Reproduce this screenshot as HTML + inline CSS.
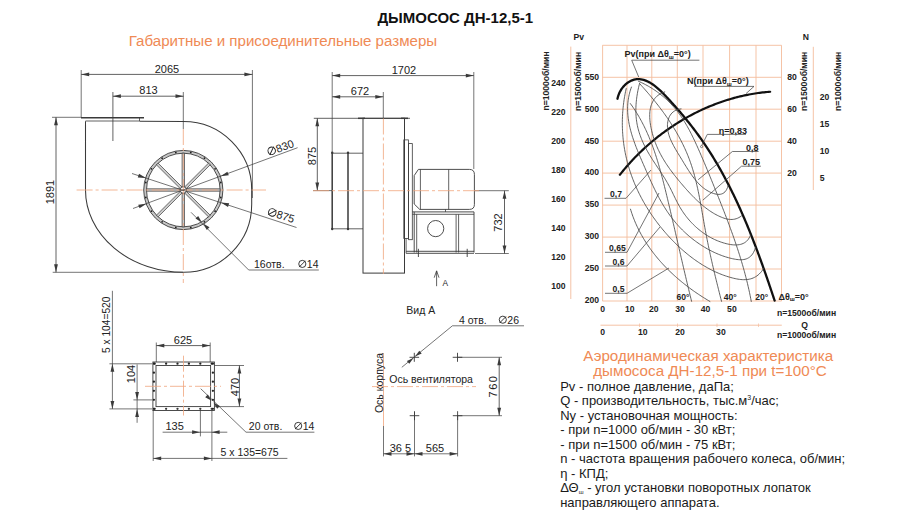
<!DOCTYPE html>
<html><head><meta charset="utf-8"><style>
html,body{margin:0;padding:0;background:#fff;width:910px;height:527px;overflow:hidden}
svg{display:block}
text{font-family:"Liberation Sans",sans-serif}
</style></head><body>
<svg width="910" height="527" viewBox="0 0 910 527">
<rect width="910" height="527" fill="#fff"/>
<text x="455.3" y="23.0" font-size="15" text-anchor="middle" fill="#111" font-weight="bold" >ДЫМОСОС ДН-12,5-1</text>
<text x="128.8" y="45.5" font-size="15.1" text-anchor="start" fill="#ef8a55" font-weight="normal" >Габаритные и присоединительные размеры</text>
<line x1="81.0" y1="117.8" x2="144.0" y2="117.8" stroke="#3a3a3a" stroke-width="1.5" />
<line x1="85.5" y1="121.0" x2="139.5" y2="121.0" stroke="#3a3a3a" stroke-width="0.8" />
<line x1="139.5" y1="117.3" x2="139.5" y2="121.0" stroke="#3a3a3a" stroke-width="0.8" />
<path d="M85.5,121.3 L85.5,190 A98.2,82.3 0 0 0 183.7,272.3 A68,68 0 0 0 251.7,204.3 L251.7,190 A68.2,68.2 0 0 0 183.5,121.6 L139.5,121.3" stroke="#3a3a3a" stroke-width="1.05" fill="none" />
<line x1="81.2" y1="70.0" x2="81.2" y2="117.0" stroke="#3a3a3a" stroke-width="0.7" />
<line x1="252.4" y1="70.0" x2="252.4" y2="198.0" stroke="#3a3a3a" stroke-width="0.7" />
<line x1="81.2" y1="74.4" x2="252.4" y2="74.4" stroke="#3a3a3a" stroke-width="0.8" />
<polygon points="81.2,74.4 89.2,76.3 89.2,72.5" fill="#3a3a3a"/>
<polygon points="252.4,74.4 244.4,72.5 244.4,76.3" fill="#3a3a3a"/>
<text x="167.0" y="72.5" font-size="11" text-anchor="middle" fill="#222" font-weight="normal" >2065</text>
<line x1="112.9" y1="92.0" x2="112.9" y2="141.0" stroke="#3a3a3a" stroke-width="0.8" />
<line x1="183.3" y1="92.0" x2="183.3" y2="129.0" stroke="#3a3a3a" stroke-width="0.7" />
<line x1="112.9" y1="96.2" x2="183.5" y2="96.2" stroke="#3a3a3a" stroke-width="0.8" />
<polygon points="112.9,96.2 120.9,98.1 120.9,94.3" fill="#3a3a3a"/>
<polygon points="183.5,96.2 175.5,94.3 175.5,98.1" fill="#3a3a3a"/>
<text x="148.5" y="94.3" font-size="11" text-anchor="middle" fill="#222" font-weight="normal" >813</text>
<line x1="52.0" y1="117.3" x2="81.0" y2="117.3" stroke="#3a3a3a" stroke-width="0.7" />
<line x1="52.7" y1="272.3" x2="183.0" y2="272.3" stroke="#3a3a3a" stroke-width="0.7" />
<line x1="56.0" y1="117.3" x2="56.0" y2="272.3" stroke="#3a3a3a" stroke-width="0.8" />
<polygon points="56.0,117.3 54.1,125.3 57.9,125.3" fill="#3a3a3a"/>
<polygon points="56.0,272.3 57.9,264.3 54.1,264.3" fill="#3a3a3a"/>
<text x="54.0" y="192.0" font-size="11" text-anchor="middle" fill="#222" font-weight="normal" transform="rotate(-90 54.0 192.0)" >1891</text>
<circle cx="183.3" cy="190" r="38.2" fill="none" stroke="#c6c6c6" stroke-width="2.6"/>
<circle cx="183.3" cy="190" r="39.6" fill="none" stroke="#3a3a3a" stroke-width="0.9"/>
<circle cx="183.3" cy="190" r="36.8" fill="none" stroke="#3a3a3a" stroke-width="0.9"/>
<circle cx="220.8" cy="197.5" r="0.9" fill="#222"/>
<circle cx="215.1" cy="211.2" r="0.9" fill="#222"/>
<circle cx="204.5" cy="221.8" r="0.9" fill="#222"/>
<circle cx="190.8" cy="227.5" r="0.9" fill="#222"/>
<circle cx="175.8" cy="227.5" r="0.9" fill="#222"/>
<circle cx="162.1" cy="221.8" r="0.9" fill="#222"/>
<circle cx="151.5" cy="211.2" r="0.9" fill="#222"/>
<circle cx="145.8" cy="197.5" r="0.9" fill="#222"/>
<circle cx="145.8" cy="182.5" r="0.9" fill="#222"/>
<circle cx="151.5" cy="168.8" r="0.9" fill="#222"/>
<circle cx="162.1" cy="158.2" r="0.9" fill="#222"/>
<circle cx="175.8" cy="152.5" r="0.9" fill="#222"/>
<circle cx="190.8" cy="152.5" r="0.9" fill="#222"/>
<circle cx="204.5" cy="158.2" r="0.9" fill="#222"/>
<circle cx="215.1" cy="168.8" r="0.9" fill="#222"/>
<circle cx="220.8" cy="182.5" r="0.9" fill="#222"/>
<polygon points="186.30,191.20 220.10,191.20 220.10,188.80 186.30,188.80" fill="#cccccc" stroke="#3a3a3a" stroke-width="0.7"/>
<polygon points="184.57,192.97 208.47,216.87 210.17,215.17 186.27,191.27" fill="#cccccc" stroke="#3a3a3a" stroke-width="0.7"/>
<polygon points="182.10,193.00 182.10,226.80 184.50,226.80 184.50,193.00" fill="#cccccc" stroke="#3a3a3a" stroke-width="0.7"/>
<polygon points="180.33,191.27 156.43,215.17 158.13,216.87 182.03,192.97" fill="#cccccc" stroke="#3a3a3a" stroke-width="0.7"/>
<polygon points="180.30,188.80 146.50,188.80 146.50,191.20 180.30,191.20" fill="#cccccc" stroke="#3a3a3a" stroke-width="0.7"/>
<polygon points="182.03,187.03 158.13,163.13 156.43,164.83 180.33,188.73" fill="#cccccc" stroke="#3a3a3a" stroke-width="0.7"/>
<polygon points="184.50,187.00 184.50,153.20 182.10,153.20 182.10,187.00" fill="#cccccc" stroke="#3a3a3a" stroke-width="0.7"/>
<polygon points="186.27,188.73 210.17,164.83 208.47,163.13 184.57,187.03" fill="#cccccc" stroke="#3a3a3a" stroke-width="0.7"/>
<circle cx="183.3" cy="190" r="3.2" fill="#fff" stroke="#3a3a3a" stroke-width="0.8"/>
<line x1="76.6" y1="190.0" x2="266.0" y2="190.0" stroke="#f0a47c" stroke-width="0.8" stroke-dasharray="16 3 3 3"/>
<line x1="183.3" y1="129.0" x2="183.3" y2="283.0" stroke="#f0a47c" stroke-width="0.8" stroke-dasharray="16 3 3 3"/>
<line x1="133.0" y1="208.5" x2="297.6" y2="147.7" stroke="#3a3a3a" stroke-width="0.7" />
<polygon points="146.4,203.7 138.2,204.7 139.6,208.3" fill="#3a3a3a"/>
<polygon points="220.6,176.3 228.8,175.3 227.4,171.7" fill="#3a3a3a"/>
<line x1="132.0" y1="173.5" x2="296.5" y2="227.5" stroke="#3a3a3a" stroke-width="0.7" />
<polygon points="146.0,178.1 139.0,173.8 137.8,177.4" fill="#3a3a3a"/>
<polygon points="221.0,202.6 228.0,206.9 229.2,203.3" fill="#3a3a3a"/>
<g transform="translate(282.00,151.30) rotate(-20)"><circle cx="-9.50" cy="-3.96" r="3.74" fill="none" stroke="#222" stroke-width="0.94"/><line x1="-12.80" y1="-0.66" x2="-6.20" y2="-7.26" stroke="#222" stroke-width="0.94"/><text x="-4.77" y="0" font-size="11" fill="#222">830</text></g>
<g transform="translate(280.20,219.00) rotate(17)"><circle cx="-9.50" cy="-3.96" r="3.74" fill="none" stroke="#222" stroke-width="0.94"/><line x1="-12.80" y1="-0.66" x2="-6.20" y2="-7.26" stroke="#222" stroke-width="0.94"/><text x="-4.77" y="0" font-size="11" fill="#222">875</text></g>
<polyline points="191.0,212.3 248.7,270.0 318.8,270.0" stroke="#3a3a3a" stroke-width="0.7" fill="none"/>
<polygon points="201.8,222.2 198.2,215.9 195.5,218.6" fill="#3a3a3a"/>
<polygon points="203.2,223.6 206.8,229.9 209.5,227.2" fill="#3a3a3a"/>
<text x="254.0" y="267.7" font-size="10.5" text-anchor="start" fill="#222" font-weight="normal" >16отв.</text>
<g transform="translate(318.50,267.70) rotate(0)"><circle cx="-16.19" cy="-3.78" r="3.57" fill="none" stroke="#222" stroke-width="0.89"/><line x1="-19.34" y1="-0.63" x2="-13.04" y2="-6.93" stroke="#222" stroke-width="0.89"/><text x="-11.68" y="0" font-size="10.5" fill="#222">14</text></g>
<line x1="332.2" y1="75.6" x2="473.8" y2="75.6" stroke="#3a3a3a" stroke-width="0.8" />
<polygon points="332.2,75.6 340.2,77.5 340.2,73.7" fill="#3a3a3a"/>
<polygon points="473.8,75.6 465.8,73.7 465.8,77.5" fill="#3a3a3a"/>
<text x="404.0" y="74.0" font-size="11" text-anchor="middle" fill="#222" font-weight="normal" >1702</text>
<line x1="332.2" y1="96.8" x2="383.3" y2="96.8" stroke="#3a3a3a" stroke-width="0.8" />
<polygon points="332.2,96.8 340.2,98.7 340.2,94.9" fill="#3a3a3a"/>
<polygon points="383.3,96.8 375.3,94.9 375.3,98.7" fill="#3a3a3a"/>
<text x="360.0" y="94.8" font-size="11" text-anchor="middle" fill="#222" font-weight="normal" >672</text>
<line x1="332.2" y1="72.0" x2="332.2" y2="153.0" stroke="#3a3a3a" stroke-width="0.7" />
<line x1="473.8" y1="72.0" x2="473.8" y2="169.0" stroke="#3a3a3a" stroke-width="0.7" />
<line x1="383.3" y1="92.0" x2="383.3" y2="118.0" stroke="#3a3a3a" stroke-width="0.7" />
<line x1="313.8" y1="118.3" x2="410.0" y2="118.3" stroke="#3a3a3a" stroke-width="0.8" />
<line x1="317.3" y1="118.3" x2="317.3" y2="190.6" stroke="#3a3a3a" stroke-width="0.8" />
<polygon points="317.3,118.3 315.4,126.3 319.2,126.3" fill="#3a3a3a"/>
<polygon points="317.3,190.6 319.2,182.6 315.4,182.6" fill="#3a3a3a"/>
<text x="316.0" y="156.0" font-size="11" text-anchor="middle" fill="#222" font-weight="normal" transform="rotate(-90 316.0 156.0)" >875</text>
<line x1="313.0" y1="190.6" x2="332.0" y2="190.6" stroke="#3a3a3a" stroke-width="0.7" />
<line x1="332.2" y1="152.7" x2="332.2" y2="229.0" stroke="#3a3a3a" stroke-width="1.5" />
<line x1="348.0" y1="152.7" x2="348.0" y2="229.0" stroke="#3a3a3a" stroke-width="1.5" />
<circle cx="332.2" cy="152.7" r="1.2" fill="#3a3a3a"/><circle cx="348" cy="152.7" r="1.2" fill="#3a3a3a"/><circle cx="332.2" cy="229" r="1.2" fill="#3a3a3a"/><circle cx="348" cy="229" r="1.2" fill="#3a3a3a"/>
<line x1="332.2" y1="153.2" x2="363.0" y2="153.2" stroke="#3a3a3a" stroke-width="0.8" />
<line x1="332.2" y1="228.8" x2="363.0" y2="228.8" stroke="#3a3a3a" stroke-width="0.8" />
<rect x="363" y="118.3" width="41.5" height="154.8" fill="none" stroke="#3a3a3a" stroke-width="1"/>
<line x1="358.0" y1="118.3" x2="365.0" y2="118.3" stroke="#3a3a3a" stroke-width="1.5" />
<line x1="401.0" y1="118.3" x2="408.0" y2="118.3" stroke="#3a3a3a" stroke-width="1.5" />
<rect x="403.8" y="139.9" width="4.8" height="98.6" fill="none" stroke="#3a3a3a" stroke-width="0.8"/>
<rect x="408.6" y="143.6" width="3.7" height="96.1" fill="none" stroke="#3a3a3a" stroke-width="0.8"/>
<path d="M418.4,169.4 L469.4,169.4 Q474.4,169.4 474.4,174.4 L474.4,204.4 Q474.4,209.4 469.4,209.4 L419.7,209.4 L414.2,204 L414.2,175.6 Z" stroke="#3a3a3a" stroke-width="0.9" fill="none" />
<line x1="420.4" y1="169.4" x2="420.4" y2="209.4" stroke="#3a3a3a" stroke-width="0.8" />
<line x1="448.7" y1="169.4" x2="448.7" y2="209.4" stroke="#3a3a3a" stroke-width="0.8" />
<line x1="445.5" y1="209.4" x2="445.5" y2="211.9" stroke="#3a3a3a" stroke-width="0.8" />
<line x1="412.3" y1="211.9" x2="474.0" y2="211.9" stroke="#3a3a3a" stroke-width="0.9" />
<line x1="412.3" y1="214.3" x2="474.0" y2="214.3" stroke="#3a3a3a" stroke-width="0.8" />
<line x1="414.2" y1="211.9" x2="414.2" y2="252.5" stroke="#3a3a3a" stroke-width="0.9" />
<line x1="416.7" y1="214.3" x2="416.7" y2="252.5" stroke="#3a3a3a" stroke-width="0.8" />
<line x1="456.1" y1="214.3" x2="456.1" y2="252.5" stroke="#3a3a3a" stroke-width="0.8" />
<line x1="458.6" y1="214.3" x2="458.6" y2="252.5" stroke="#3a3a3a" stroke-width="0.8" />
<line x1="474.0" y1="211.9" x2="474.0" y2="252.5" stroke="#3a3a3a" stroke-width="0.9" />
<circle cx="435.7" cy="228.6" r="8.1" fill="none" stroke="#3a3a3a" stroke-width="0.9"/>
<line x1="406.1" y1="251.3" x2="474.0" y2="251.3" stroke="#3a3a3a" stroke-width="0.9" />
<line x1="406.1" y1="253.3" x2="474.0" y2="253.3" stroke="#3a3a3a" stroke-width="0.9" />
<line x1="406.1" y1="238.5" x2="406.1" y2="253.3" stroke="#3a3a3a" stroke-width="0.8" />
<line x1="418.4" y1="248.8" x2="418.4" y2="257.0" stroke="#3a3a3a" stroke-width="0.9" />
<line x1="467.2" y1="248.8" x2="467.2" y2="257.0" stroke="#3a3a3a" stroke-width="0.9" />
<line x1="475.0" y1="190.7" x2="508.8" y2="190.7" stroke="#3a3a3a" stroke-width="0.7" />
<line x1="475.0" y1="253.5" x2="508.8" y2="253.5" stroke="#3a3a3a" stroke-width="0.7" />
<line x1="504.5" y1="190.7" x2="504.5" y2="253.5" stroke="#3a3a3a" stroke-width="0.8" />
<polygon points="504.5,190.7 502.6,198.7 506.4,198.7" fill="#3a3a3a"/>
<polygon points="504.5,253.5 506.4,245.5 502.6,245.5" fill="#3a3a3a"/>
<text x="502.0" y="222.5" font-size="11" text-anchor="middle" fill="#222" font-weight="normal" transform="rotate(-90 502.0 222.5)" >732</text>
<line x1="313.0" y1="190.7" x2="480.0" y2="190.7" stroke="#f0a47c" stroke-width="0.8" stroke-dasharray="16 3 3 3"/>
<line x1="383.4" y1="118.5" x2="383.4" y2="274.0" stroke="#f0a47c" stroke-width="0.8" stroke-dasharray="16 3 3 3"/>
<polyline points="434.2,277.7 436.6,270.8 439.0,277.7" stroke="#3a3a3a" stroke-width="0.8" fill="none"/>
<line x1="436.6" y1="271.0" x2="436.6" y2="286.2" stroke="#3a3a3a" stroke-width="0.8" />
<text x="442.6" y="286.2" font-size="8.3" text-anchor="start" fill="#222" font-weight="normal" >A</text>
<rect x="152.9" y="362" width="61.5" height="48.5" fill="none" stroke="#3a3a3a" stroke-width="0.9"/>
<rect x="156" y="365.5" width="54.6" height="41.1" fill="none" stroke="#3a3a3a" stroke-width="0.9"/>
<circle cx="154.7" cy="363.7" r="1.15" fill="#222"/><circle cx="154.7" cy="408.8" r="1.15" fill="#3a3a3a"/>
<circle cx="166.1" cy="363.7" r="1.15" fill="#222"/><circle cx="166.1" cy="408.8" r="1.15" fill="#3a3a3a"/>
<circle cx="177.5" cy="363.7" r="1.15" fill="#222"/><circle cx="177.5" cy="408.8" r="1.15" fill="#3a3a3a"/>
<circle cx="188.9" cy="363.7" r="1.15" fill="#222"/><circle cx="188.9" cy="408.8" r="1.15" fill="#3a3a3a"/>
<circle cx="200.3" cy="363.7" r="1.15" fill="#222"/><circle cx="200.3" cy="408.8" r="1.15" fill="#3a3a3a"/>
<circle cx="211.7" cy="363.7" r="1.15" fill="#222"/><circle cx="211.7" cy="408.8" r="1.15" fill="#3a3a3a"/>
<circle cx="153.9" cy="363.7" r="1.15" fill="#222"/><circle cx="212.9" cy="363.7" r="1.15" fill="#222"/>
<circle cx="153.9" cy="372.7" r="1.15" fill="#222"/><circle cx="212.9" cy="372.7" r="1.15" fill="#222"/>
<circle cx="153.9" cy="381.7" r="1.15" fill="#222"/><circle cx="212.9" cy="381.7" r="1.15" fill="#222"/>
<circle cx="153.9" cy="390.8" r="1.15" fill="#222"/><circle cx="212.9" cy="390.8" r="1.15" fill="#222"/>
<circle cx="153.9" cy="399.8" r="1.15" fill="#222"/><circle cx="212.9" cy="399.8" r="1.15" fill="#222"/>
<circle cx="153.9" cy="408.8" r="1.15" fill="#222"/><circle cx="212.9" cy="408.8" r="1.15" fill="#222"/>
<line x1="145.0" y1="386.3" x2="221.0" y2="386.3" stroke="#f0a47c" stroke-width="0.8" stroke-dasharray="16 3 3 3"/>
<line x1="183.5" y1="355.7" x2="183.5" y2="415.5" stroke="#f0a47c" stroke-width="0.8" stroke-dasharray="16 3 3 3"/>
<line x1="156.3" y1="342.5" x2="156.3" y2="362.0" stroke="#3a3a3a" stroke-width="0.7" />
<line x1="210.2" y1="342.5" x2="210.2" y2="362.0" stroke="#3a3a3a" stroke-width="0.7" />
<line x1="156.3" y1="345.6" x2="210.2" y2="345.6" stroke="#3a3a3a" stroke-width="0.8" />
<polygon points="156.3,345.6 164.3,347.5 164.3,343.7" fill="#3a3a3a"/>
<polygon points="210.2,345.6 202.2,343.7 202.2,347.5" fill="#3a3a3a"/>
<text x="183.0" y="343.8" font-size="11" text-anchor="middle" fill="#222" font-weight="normal" >625</text>
<line x1="109.4" y1="363.8" x2="152.0" y2="363.8" stroke="#3a3a3a" stroke-width="0.7" />
<line x1="109.4" y1="408.9" x2="152.0" y2="408.9" stroke="#3a3a3a" stroke-width="0.7" />
<line x1="112.4" y1="290.8" x2="112.4" y2="408.9" stroke="#3a3a3a" stroke-width="0.7" />
<polygon points="112.4,363.8 110.5,371.8 114.3,371.8" fill="#3a3a3a"/>
<polygon points="112.4,408.9 114.3,400.9 110.5,400.9" fill="#3a3a3a"/>
<text x="110.0" y="324.8" font-size="10.2" text-anchor="middle" fill="#222" font-weight="normal" transform="rotate(-90 110.0 324.8)" >5 x 104=520</text>
<line x1="133.4" y1="399.9" x2="152.2" y2="399.9" stroke="#3a3a3a" stroke-width="0.7" />
<line x1="137.1" y1="364.4" x2="137.1" y2="422.8" stroke="#3a3a3a" stroke-width="0.7" />
<polygon points="137.1,399.9 139.0,391.9 135.2,391.9" fill="#3a3a3a"/>
<polygon points="137.1,408.9 135.2,416.9 139.0,416.9" fill="#3a3a3a"/>
<text x="134.5" y="374.0" font-size="11" text-anchor="middle" fill="#222" font-weight="normal" transform="rotate(-90 134.5 374.0)" >104</text>
<line x1="214.7" y1="365.5" x2="244.0" y2="365.5" stroke="#3a3a3a" stroke-width="0.7" />
<line x1="214.7" y1="406.6" x2="244.0" y2="406.6" stroke="#3a3a3a" stroke-width="0.7" />
<line x1="239.4" y1="365.5" x2="239.4" y2="406.6" stroke="#3a3a3a" stroke-width="0.8" />
<polygon points="239.4,365.5 237.5,373.5 241.3,373.5" fill="#3a3a3a"/>
<polygon points="239.4,406.6 241.3,398.6 237.5,398.6" fill="#3a3a3a"/>
<text x="239.0" y="387.0" font-size="11" text-anchor="middle" fill="#222" font-weight="normal" transform="rotate(-90 239.0 387.0)" >470</text>
<line x1="200.4" y1="410.0" x2="200.4" y2="436.4" stroke="#3a3a3a" stroke-width="0.7" />
<line x1="211.9" y1="410.0" x2="211.9" y2="461.0" stroke="#3a3a3a" stroke-width="0.7" />
<line x1="153.2" y1="410.0" x2="153.2" y2="461.0" stroke="#3a3a3a" stroke-width="0.7" />
<line x1="162.6" y1="432.2" x2="227.3" y2="432.2" stroke="#3a3a3a" stroke-width="0.7" />
<polygon points="200.1,432.2 192.1,430.3 192.1,434.1" fill="#3a3a3a"/>
<polygon points="211.6,432.2 219.6,434.1 219.6,430.3" fill="#3a3a3a"/>
<text x="174.6" y="429.7" font-size="11" text-anchor="middle" fill="#222" font-weight="normal" >135</text>
<polyline points="200.7,388.7 246.0,432.2 314.4,432.2" stroke="#3a3a3a" stroke-width="0.7" fill="none"/>
<polygon points="211.6,400.7 207.8,394.5 205.2,397.2" fill="#3a3a3a"/>
<polygon points="213.4,402.5 217.2,408.7 219.8,406.0" fill="#3a3a3a"/>
<text x="248.8" y="429.7" font-size="10.5" text-anchor="start" fill="#222" font-weight="normal" >20 отв.</text>
<g transform="translate(314.40,429.70) rotate(0)"><circle cx="-16.19" cy="-3.78" r="3.57" fill="none" stroke="#222" stroke-width="0.89"/><line x1="-19.34" y1="-0.63" x2="-13.04" y2="-6.93" stroke="#222" stroke-width="0.89"/><text x="-11.68" y="0" font-size="10.5" fill="#222">14</text></g>
<line x1="153.2" y1="458.4" x2="287.4" y2="458.4" stroke="#3a3a3a" stroke-width="0.7" />
<polygon points="153.2,458.4 161.2,460.3 161.2,456.5" fill="#3a3a3a"/>
<polygon points="211.9,458.4 203.9,456.5 203.9,460.3" fill="#3a3a3a"/>
<text x="249.6" y="456.0" font-size="10.5" text-anchor="middle" fill="#222" font-weight="normal" >5 x 135=675</text>
<text x="406.3" y="314.0" font-size="10.5" text-anchor="start" fill="#222" font-weight="normal" >Вид А</text>
<polyline points="401.8,367.3 452.4,325.8 524.0,325.8" stroke="#3a3a3a" stroke-width="0.7" fill="none"/>
<polygon points="413.5,357.9 406.9,360.9 409.3,363.8" fill="#3a3a3a"/>
<polygon points="415.1,356.6 421.7,353.6 419.3,350.7" fill="#3a3a3a"/>
<text x="459.0" y="323.5" font-size="10.5" text-anchor="start" fill="#222" font-weight="normal" >4 отв.</text>
<g transform="translate(519.00,323.50) rotate(0)"><circle cx="-16.19" cy="-3.78" r="3.57" fill="none" stroke="#222" stroke-width="0.89"/><line x1="-19.34" y1="-0.63" x2="-13.04" y2="-6.93" stroke="#222" stroke-width="0.89"/><text x="-11.68" y="0" font-size="10.5" fill="#222">26</text></g>
<line x1="409.5" y1="357.3" x2="419.1" y2="357.3" stroke="#3a3a3a" stroke-width="0.9" />
<line x1="414.3" y1="352.8" x2="414.3" y2="361.8" stroke="#3a3a3a" stroke-width="0.9" />
<line x1="452.7" y1="357.3" x2="462.3" y2="357.3" stroke="#3a3a3a" stroke-width="0.9" />
<line x1="457.5" y1="352.8" x2="457.5" y2="361.8" stroke="#3a3a3a" stroke-width="0.9" />
<line x1="409.7" y1="415.7" x2="419.3" y2="415.7" stroke="#3a3a3a" stroke-width="0.9" />
<line x1="414.5" y1="411.2" x2="414.5" y2="420.2" stroke="#3a3a3a" stroke-width="0.9" />
<line x1="452.8" y1="415.7" x2="462.4" y2="415.7" stroke="#3a3a3a" stroke-width="0.9" />
<line x1="457.6" y1="411.2" x2="457.6" y2="420.2" stroke="#3a3a3a" stroke-width="0.9" />
<line x1="457.5" y1="357.3" x2="502.0" y2="357.3" stroke="#3a3a3a" stroke-width="0.7" />
<line x1="457.6" y1="415.7" x2="502.0" y2="415.7" stroke="#3a3a3a" stroke-width="0.7" />
<line x1="499.2" y1="357.3" x2="499.2" y2="415.7" stroke="#3a3a3a" stroke-width="0.8" />
<polygon points="499.2,357.3 497.3,365.3 501.1,365.3" fill="#3a3a3a"/>
<polygon points="499.2,415.7 501.1,407.7 497.3,407.7" fill="#3a3a3a"/>
<text x="497.3" y="386.0" font-size="11" text-anchor="middle" fill="#222" font-weight="normal" transform="rotate(-90 497.3 386.0)" letter-spacing="1.6">760</text>
<line x1="372.0" y1="386.6" x2="476.0" y2="386.6" stroke="#f0a47c" stroke-width="0.8" stroke-dasharray="16 3 3 3"/>
<line x1="383.5" y1="353.0" x2="383.5" y2="426.0" stroke="#f0a47c" stroke-width="0.8" />
<text x="382.5" y="383.0" font-size="10.5" text-anchor="middle" fill="#222" font-weight="normal" transform="rotate(-90 382.5 383.0)" >Ось корпуса</text>
<text x="389.3" y="383.3" font-size="10.5" text-anchor="start" fill="#222" font-weight="normal" >Ось вентилятора</text>
<line x1="383.5" y1="426.0" x2="383.5" y2="456.4" stroke="#3a3a3a" stroke-width="0.7" />
<line x1="414.5" y1="412.0" x2="414.5" y2="456.4" stroke="#3a3a3a" stroke-width="0.7" />
<line x1="457.6" y1="415.7" x2="457.6" y2="456.4" stroke="#3a3a3a" stroke-width="0.7" />
<line x1="383.5" y1="453.8" x2="457.6" y2="453.8" stroke="#3a3a3a" stroke-width="0.7" />
<polygon points="383.5,453.8 391.5,455.7 391.5,451.9" fill="#3a3a3a"/>
<polygon points="414.5,453.8 406.5,451.9 406.5,455.7" fill="#3a3a3a"/>
<polygon points="414.5,453.8 422.5,455.7 422.5,451.9" fill="#3a3a3a"/>
<polygon points="457.6,453.8 449.6,451.9 449.6,455.7" fill="#3a3a3a"/>
<text x="389.7" y="451.8" font-size="11" text-anchor="start" fill="#222" font-weight="normal" >36 5</text>
<text x="425.8" y="451.8" font-size="11" text-anchor="start" fill="#222" font-weight="normal" >565</text>
<line x1="602.6" y1="45.3" x2="602.6" y2="301.0" stroke="#f4bc9c" stroke-width="0.9" />
<line x1="627.0" y1="45.3" x2="627.0" y2="301.0" stroke="#f4bc9c" stroke-width="0.9" />
<line x1="651.8" y1="45.3" x2="651.8" y2="301.0" stroke="#f4bc9c" stroke-width="0.9" />
<line x1="677.3" y1="45.3" x2="677.3" y2="301.0" stroke="#f4bc9c" stroke-width="0.9" />
<line x1="703.0" y1="45.3" x2="703.0" y2="301.0" stroke="#f4bc9c" stroke-width="0.9" />
<line x1="729.6" y1="45.3" x2="729.6" y2="301.0" stroke="#f4bc9c" stroke-width="0.9" />
<line x1="756.0" y1="45.3" x2="756.0" y2="301.0" stroke="#f4bc9c" stroke-width="0.9" />
<line x1="781.5" y1="45.3" x2="781.5" y2="301.0" stroke="#f4bc9c" stroke-width="0.9" />
<line x1="602.4" y1="45.3" x2="781.5" y2="45.3" stroke="#f4bc9c" stroke-width="0.9" />
<line x1="602.4" y1="77.3" x2="781.5" y2="77.3" stroke="#f4bc9c" stroke-width="0.9" />
<line x1="602.4" y1="109.2" x2="781.5" y2="109.2" stroke="#f4bc9c" stroke-width="0.9" />
<line x1="602.4" y1="141.2" x2="781.5" y2="141.2" stroke="#f4bc9c" stroke-width="0.9" />
<line x1="602.4" y1="173.1" x2="781.5" y2="173.1" stroke="#f4bc9c" stroke-width="0.9" />
<line x1="602.4" y1="205.1" x2="781.5" y2="205.1" stroke="#f4bc9c" stroke-width="0.9" />
<line x1="602.4" y1="237.1" x2="781.5" y2="237.1" stroke="#f4bc9c" stroke-width="0.9" />
<line x1="602.4" y1="269.0" x2="781.5" y2="269.0" stroke="#f4bc9c" stroke-width="0.9" />
<line x1="602.4" y1="301.0" x2="781.5" y2="301.0" stroke="#f4bc9c" stroke-width="0.9" />
<text x="599.0" y="79.6" font-size="8.6" text-anchor="end" fill="#222" font-weight="bold" >550</text>
<text x="599.0" y="111.5" font-size="8.6" text-anchor="end" fill="#222" font-weight="bold" >500</text>
<text x="599.0" y="143.5" font-size="8.6" text-anchor="end" fill="#222" font-weight="bold" >450</text>
<text x="599.0" y="175.4" font-size="8.6" text-anchor="end" fill="#222" font-weight="bold" >400</text>
<text x="599.0" y="207.4" font-size="8.6" text-anchor="end" fill="#222" font-weight="bold" >350</text>
<text x="599.0" y="239.4" font-size="8.6" text-anchor="end" fill="#222" font-weight="bold" >300</text>
<text x="599.0" y="271.3" font-size="8.6" text-anchor="end" fill="#222" font-weight="bold" >250</text>
<text x="599.0" y="303.3" font-size="8.6" text-anchor="end" fill="#222" font-weight="bold" >200</text>
<text x="565.5" y="85.8" font-size="8.6" text-anchor="end" fill="#222" font-weight="bold" >240</text>
<text x="565.5" y="114.8" font-size="8.6" text-anchor="end" fill="#222" font-weight="bold" >220</text>
<text x="565.5" y="143.9" font-size="8.6" text-anchor="end" fill="#222" font-weight="bold" >200</text>
<text x="565.5" y="172.9" font-size="8.6" text-anchor="end" fill="#222" font-weight="bold" >180</text>
<text x="565.5" y="201.9" font-size="8.6" text-anchor="end" fill="#222" font-weight="bold" >160</text>
<text x="565.5" y="231.0" font-size="8.6" text-anchor="end" fill="#222" font-weight="bold" >140</text>
<text x="565.5" y="260.0" font-size="8.6" text-anchor="end" fill="#222" font-weight="bold" >120</text>
<text x="565.5" y="289.0" font-size="8.6" text-anchor="end" fill="#222" font-weight="bold" >100</text>
<text x="796.8" y="80.3" font-size="8.6" text-anchor="end" fill="#222" font-weight="bold" >80</text>
<text x="796.8" y="112.2" font-size="8.6" text-anchor="end" fill="#222" font-weight="bold" >60</text>
<text x="796.8" y="144.2" font-size="8.6" text-anchor="end" fill="#222" font-weight="bold" >40</text>
<text x="796.8" y="176.1" font-size="8.6" text-anchor="end" fill="#222" font-weight="bold" >20</text>
<text x="819.8" y="99.9" font-size="8.6" text-anchor="start" fill="#222" font-weight="bold" >20</text>
<text x="819.8" y="126.8" font-size="8.6" text-anchor="start" fill="#222" font-weight="bold" >15</text>
<text x="819.8" y="153.8" font-size="8.6" text-anchor="start" fill="#222" font-weight="bold" >10</text>
<text x="819.8" y="180.7" font-size="8.6" text-anchor="start" fill="#222" font-weight="bold" >5</text>
<text x="578.7" y="39.5" font-size="8.6" text-anchor="middle" fill="#222" font-weight="bold" >Pv</text>
<text x="805.8" y="40.2" font-size="8.6" text-anchor="middle" fill="#222" font-weight="bold" >N</text>
<line x1="570.8" y1="46.6" x2="570.8" y2="299.0" stroke="#f4bc9c" stroke-width="0.9" />
<line x1="813.3" y1="46.8" x2="813.3" y2="190.0" stroke="#f4bc9c" stroke-width="0.9" />
<text x="548.5" y="81.0" font-size="8.6" text-anchor="middle" fill="#222" font-weight="bold" transform="rotate(-90 548.5 81.0)" >n=1000об/мин</text>
<text x="581.0" y="81.5" font-size="8.6" text-anchor="middle" fill="#222" font-weight="bold" transform="rotate(-90 581.0 81.5)" >n=1500об/мин</text>
<text x="807.5" y="81.4" font-size="8.6" text-anchor="middle" fill="#222" font-weight="bold" transform="rotate(-90 807.5 81.4)" >n=1500об/мин</text>
<text x="841.0" y="81.4" font-size="8.6" text-anchor="middle" fill="#222" font-weight="bold" transform="rotate(-90 841.0 81.4)" >n=1000об/мин</text>
<text x="602.7" y="312.0" font-size="8.6" text-anchor="middle" fill="#222" font-weight="bold" >0</text>
<text x="629.7" y="312.0" font-size="8.6" text-anchor="middle" fill="#222" font-weight="bold" >10</text>
<text x="653.7" y="312.0" font-size="8.6" text-anchor="middle" fill="#222" font-weight="bold" >20</text>
<text x="680.0" y="312.0" font-size="8.6" text-anchor="middle" fill="#222" font-weight="bold" >30</text>
<text x="705.5" y="312.0" font-size="8.6" text-anchor="middle" fill="#222" font-weight="bold" >40</text>
<text x="731.9" y="312.0" font-size="8.6" text-anchor="middle" fill="#222" font-weight="bold" >50</text>
<text x="806.5" y="316.3" font-size="8.6" text-anchor="middle" fill="#222" font-weight="bold" >n=1500об/мин</text>
<text x="804.7" y="327.5" font-size="8.6" text-anchor="middle" fill="#222" font-weight="bold" >Q</text>
<line x1="600.5" y1="325.2" x2="781.8" y2="325.2" stroke="#f4bc9c" stroke-width="0.9" />
<text x="602.7" y="335.0" font-size="8.6" text-anchor="middle" fill="#222" font-weight="bold" >0</text>
<text x="642.8" y="335.0" font-size="8.6" text-anchor="middle" fill="#222" font-weight="bold" >10</text>
<text x="680.0" y="335.0" font-size="8.6" text-anchor="middle" fill="#222" font-weight="bold" >20</text>
<text x="720.9" y="335.0" font-size="8.6" text-anchor="middle" fill="#222" font-weight="bold" >30</text>
<text x="806.5" y="338.0" font-size="8.6" text-anchor="middle" fill="#222" font-weight="bold" >n=1000об/мин</text>
<line x1="639.5" y1="323.5" x2="639.5" y2="327.0" stroke="#f4bc9c" stroke-width="0.7" />
<line x1="677.5" y1="323.5" x2="677.5" y2="327.0" stroke="#f4bc9c" stroke-width="0.7" />
<line x1="717.0" y1="323.5" x2="717.0" y2="327.0" stroke="#f4bc9c" stroke-width="0.7" />
<line x1="758.5" y1="323.5" x2="758.5" y2="327.0" stroke="#f4bc9c" stroke-width="0.7" />
<text x="682.9" y="299.5" font-size="8.6" text-anchor="middle" fill="#222" font-weight="bold" >60°</text>
<text x="730.2" y="299.5" font-size="8.6" text-anchor="middle" fill="#222" font-weight="bold" >40°</text>
<text x="761.8" y="299.5" font-size="8.6" text-anchor="middle" fill="#222" font-weight="bold" >20°</text>
<text x="778.5" y="299.5" font-size="9" text-anchor="start" fill="#222" font-weight="bold" >Δθ<tspan font-size="6" dy="1.5">ш</tspan><tspan dy="-1.5">=0°</tspan></text>
<path d="M617.47,98.71 L617.89,97.02 L618.40,95.39 L619.00,93.81 L619.68,92.29 L620.45,90.84 L621.29,89.45 L622.20,88.13 L623.17,86.89 L624.21,85.73 L625.30,84.64 L626.44,83.65 L627.63,82.74 L628.85,81.92 L630.12,81.20 L631.41,80.58 L632.73,80.06 L634.07,79.64 L635.43,79.34 L636.80,79.15 L638.17,79.08 L639.55,79.12 L640.93,79.28 L642.30,79.54 L643.67,79.89 L645.03,80.33 L646.38,80.86 L647.72,81.46 L649.04,82.14 L650.35,82.87 L651.63,83.66 L652.89,84.51 L654.13,85.39 L655.34,86.32 L656.53,87.28 L657.70,88.28 L658.85,89.30 L659.99,90.35 L661.11,91.42 L662.22,92.52 L663.31,93.62 L664.39,94.74 L665.47,95.86 L666.53,96.99 L667.60,98.13 L668.65,99.26 L669.70,100.39 L670.75,101.53 L671.79,102.67 L672.82,103.81 L673.85,104.95 L674.87,106.09 L675.89,107.24 L676.90,108.39 L677.90,109.54 L678.90,110.69 L679.89,111.84 L680.88,113.00 L681.86,114.16 L682.84,115.32 L683.81,116.48 L684.78,117.65 L685.74,118.82 L686.69,119.99 L687.64,121.16 L688.58,122.34 L689.52,123.52 L690.45,124.70 L691.38,125.89 L692.30,127.08 L693.22,128.27 L694.13,129.47 L695.03,130.66 L695.93,131.87 L696.82,133.07 L697.71,134.28 L698.59,135.50 L699.47,136.71 L700.34,137.93 L701.21,139.16 L702.07,140.39 L702.92,141.62 L703.77,142.86 L704.62,144.10 L705.45,145.34 L706.29,146.59 L707.11,147.84 L707.94,149.10 L708.75,150.36 L709.57,151.62 L710.37,152.89 L711.17,154.16 L711.97,155.43 L712.76,156.71 L713.55,157.99 L714.33,159.27 L715.11,160.56 L715.88,161.85 L716.65,163.15 L717.41,164.45 L718.17,165.75 L718.92,167.05 L719.67,168.36 L720.41,169.67 L721.15,170.98 L721.88,172.30 L722.61,173.62 L723.33,174.94 L724.05,176.27 L724.77,177.60 L725.48,178.93 L726.19,180.26 L726.89,181.60 L727.59,182.94 L728.28,184.28 L728.97,185.63 L729.66,186.97 L730.34,188.32 L731.02,189.67 L731.69,191.03 L732.36,192.39 L733.02,193.75 L733.68,195.11 L734.34,196.47 L734.99,197.84 L735.64,199.21 L736.29,200.58 L736.93,201.95 L737.57,203.32 L738.20,204.70 L738.83,206.08 L739.46,207.46 L740.08,208.84 L740.70,210.22 L741.32,211.61 L741.93,213.00 L742.54,214.39 L743.14,215.78 L743.75,217.17 L744.35,218.57 L744.94,219.96 L745.53,221.36 L746.12,222.76 L746.71,224.16 L747.29,225.56 L747.87,226.96 L748.45,228.36 L749.02,229.77 L749.59,231.18 L750.16,232.58 L750.72,233.99 L751.29,235.40 L751.85,236.81 L752.40,238.22 L752.95,239.64 L753.51,241.05 L754.05,242.47 L754.60,243.88 L755.14,245.30 L755.68,246.71 L756.22,248.13 L756.75,249.55 L757.28,250.97 L757.81,252.39 L758.34,253.80 L758.87,255.22 L759.39,256.65 L759.91,258.07 L760.43,259.49 L760.94,260.91 L761.46,262.33 L761.97,263.75 L762.48,265.17 L762.99,266.60 L763.49,268.02 L763.99,269.44 L764.50,270.86 L765.00,272.29 L765.49,273.71 L765.99,275.13 L766.48,276.55 L766.97,277.97 L767.46,279.39 L767.95,280.82 L768.44,282.24 L768.93,283.66 L769.41,285.08 L769.89,286.50 L770.37,287.91 L770.85,289.33 L771.33,290.75 L771.81,292.17 L772.28,293.58 L772.75,295.00 L773.23,296.41 L773.70,297.83 L774.17,299.24 L774.64,300.65" stroke="#111" stroke-width="2.3" fill="none" stroke-linecap="round" stroke-linejoin="round"/>
<path d="M619.88,174.75 L620.82,173.56 L621.77,172.38 L622.72,171.21 L623.69,170.04 L624.66,168.88 L625.64,167.72 L626.63,166.57 L627.63,165.43 L628.63,164.29 L629.65,163.16 L630.67,162.04 L631.70,160.92 L632.74,159.81 L633.78,158.71 L634.84,157.61 L635.90,156.52 L636.96,155.44 L638.04,154.36 L639.12,153.29 L640.21,152.23 L641.31,151.17 L642.42,150.13 L643.53,149.09 L644.65,148.05 L645.78,147.02 L646.91,146.01 L648.05,144.99 L649.20,143.99 L650.35,142.99 L651.51,142.00 L652.68,141.02 L653.86,140.05 L655.04,139.08 L656.22,138.12 L657.42,137.17 L658.62,136.23 L659.83,135.30 L661.04,134.37 L662.26,133.45 L663.49,132.54 L664.72,131.64 L665.96,130.75 L667.20,129.86 L668.45,128.98 L669.71,128.12 L670.97,127.26 L672.23,126.41 L673.51,125.56 L674.79,124.73 L676.07,123.90 L677.36,123.09 L678.66,122.28 L679.96,121.48 L681.26,120.69 L682.57,119.91 L683.89,119.14 L685.21,118.38 L686.54,117.63 L687.87,116.88 L689.21,116.15 L690.55,115.42 L691.90,114.71 L693.25,114.00 L694.61,113.31 L695.97,112.62 L697.33,111.94 L698.70,111.28 L700.08,110.62 L701.46,109.97 L702.84,109.33 L704.23,108.70 L705.62,108.09 L707.02,107.48 L708.42,106.88 L709.82,106.30 L711.23,105.72 L712.64,105.15 L714.06,104.60 L715.48,104.05 L716.90,103.52 L718.33,102.99 L719.76,102.48 L721.20,101.97 L722.64,101.48 L724.08,101.00 L725.53,100.53 L726.97,100.07 L728.43,99.62 L729.88,99.18 L731.34,98.75 L732.80,98.34 L734.27,97.93 L735.73,97.54 L737.21,97.16 L738.68,96.79 L740.16,96.43 L741.64,96.08 L743.12,95.75 L744.60,95.42 L746.09,95.11 L747.58,94.81 L749.07,94.52 L750.56,94.24 L752.06,93.97 L753.56,93.72 L755.06,93.48 L756.57,93.25 L758.07,93.03 L759.58,92.83 L761.09,92.63 L762.60,92.45 L764.11,92.29 L765.63,92.13 L767.15,91.99 L768.66,91.86 L770.18,91.74" stroke="#111" stroke-width="2.2" fill="none" stroke-linecap="round" stroke-linejoin="round"/>
<path d="M626.20,88.51 L625.86,90.08 L625.53,91.64 L625.22,93.21 L624.93,94.77 L624.65,96.33 L624.39,97.89 L624.14,99.45 L623.91,101.01 L623.70,102.56 L623.50,104.11 L623.32,105.66 L623.15,107.21 L623.00,108.76 L622.86,110.30 L622.74,111.84 L622.64,113.38 L622.55,114.92 L622.48,116.46 L622.42,117.99 L622.37,119.52 L622.35,121.05 L622.33,122.57 L622.34,124.09 L622.35,125.61 L622.38,127.13 L622.43,128.65 L622.49,130.16 L622.57,131.67 L622.66,133.17 L622.77,134.68 L622.89,136.18 L623.02,137.67 L623.17,139.17 L623.34,140.66 L623.52,142.15 L623.71,143.63 L623.92,145.12 L624.14,146.59 L624.37,148.07 L624.62,149.54 L624.89,151.01 L625.16,152.48 L625.45,153.94 L625.76,155.40 L626.08,156.85 L626.41,158.30 L626.76,159.75 L627.12,161.19 L627.49,162.63 L627.88,164.07 L628.28,165.50 L628.69,166.93 L629.12,168.35 L629.56,169.77 L630.01,171.19 L630.48,172.60 L630.96,174.01 L631.45,175.41 L631.96,176.81 L632.48,178.21 L633.01,179.60 L633.55,180.99 L634.11,182.37 L634.68,183.75 L635.26,185.12 L635.85,186.49 L636.46,187.85 L637.08,189.21 L637.71,190.57 L638.36,191.92 L639.01,193.26 L639.68,194.60 L640.36,195.94 L641.06,197.27 L641.76,198.59 L642.48,199.92 L643.21,201.23 L643.95,202.54 L644.70,203.85 L645.47,205.15 L646.24,206.44 L647.03,207.73 L647.83,209.02 L648.64,210.30 L649.46,211.57 L650.29,212.84 L651.14,214.10 L652.00,215.36 L652.86,216.61 L653.74,217.86 L654.63,219.10 L655.53,220.33 L656.44,221.56 L657.36,222.78 L658.30,224.00 L659.24,225.21 L660.20,226.41 L661.16,227.61 L662.14,228.81 L663.12,229.99 L664.12,231.17 L665.13,232.35 L666.15,233.52 L667.17,234.68 L668.21,235.83 L669.26,236.98 L670.32,238.11 L671.39,239.24 L672.46,240.37 L673.55,241.48 L674.65,242.58 L675.75,243.68 L676.87,244.76 L677.99,245.83 L679.13,246.90 L680.27,247.95 L681.42,248.99 L682.58,250.03 L683.75,251.05 L684.93,252.05 L686.12,253.05 L687.31,254.03 L688.52,255.00 L689.73,255.96 L690.95,256.91 L692.18,257.84 L693.41,258.75 L694.66,259.66 L695.91,260.54 L697.17,261.42 L698.44,262.28 L699.71,263.12 L700.99,263.95 L702.28,264.76 L703.58,265.55 L704.88,266.33 L706.19,267.09 L707.51,267.83 L708.84,268.56 L710.17,269.27 L711.50,269.96 L712.85,270.63 L714.20,271.28 L715.56,271.92 L716.92,272.53 L718.29,273.12 L719.67,273.70 L721.05,274.25 L722.43,274.79 L723.83,275.30 L725.23,275.79 L726.63,276.26 L728.04,276.71 L729.46,277.14 L730.88,277.54 L732.30,277.92 L733.73,278.28 L735.17,278.60 L736.60,278.90 L738.03,279.15 L739.46,279.36 L740.89,279.52 L742.30,279.63 L743.71,279.68 L745.11,279.67 L746.50,279.59 L747.87,279.43 L749.23,279.20 L750.57,278.88 L751.89,278.48 L753.19,277.98 L754.46,277.39 L755.71,276.69 L756.93,275.89 L758.12,274.98 L759.28,273.94 L760.41,272.79 L761.50,271.51 L762.56,270.10 L763.58,268.55" stroke="#444" stroke-width="0.85" fill="none" stroke-linecap="round" stroke-linejoin="round"/>
<path d="M631.44,87.06 L630.90,88.58 L630.41,90.11 L629.96,91.63 L629.55,93.15 L629.18,94.66 L628.86,96.18 L628.57,97.69 L628.33,99.20 L628.12,100.70 L627.95,102.21 L627.81,103.71 L627.71,105.21 L627.65,106.70 L627.61,108.20 L627.61,109.69 L627.65,111.18 L627.71,112.66 L627.81,114.15 L627.93,115.63 L628.08,117.11 L628.26,118.59 L628.47,120.06 L628.71,121.54 L628.96,123.01 L629.25,124.47 L629.55,125.94 L629.88,127.40 L630.23,128.86 L630.60,130.32 L630.99,131.78 L631.40,133.23 L631.83,134.69 L632.28,136.14 L632.74,137.58 L633.22,139.03 L633.71,140.47 L634.22,141.91 L634.74,143.35 L635.27,144.79 L635.81,146.22 L636.37,147.65 L636.93,149.08 L637.50,150.51 L638.08,151.94 L638.67,153.36 L639.26,154.78 L639.86,156.20 L640.46,157.62 L641.07,159.03 L641.68,160.44 L642.29,161.85 L642.90,163.26 L643.52,164.67 L644.13,166.07 L644.74,167.47 L645.35,168.87 L645.96,170.27 L646.57,171.67 L647.18,173.06 L647.80,174.45 L648.41,175.83 L649.03,177.21 L649.65,178.59 L650.27,179.97 L650.89,181.34 L651.52,182.70 L652.16,184.07 L652.80,185.43 L653.44,186.78 L654.09,188.13 L654.74,189.47 L655.40,190.81 L656.07,192.15 L656.75,193.48 L657.43,194.80 L658.12,196.12 L658.82,197.43 L659.53,198.74 L660.24,200.04 L660.97,201.33 L661.71,202.62 L662.45,203.90 L663.21,205.17 L663.98,206.44 L664.77,207.69 L665.56,208.95 L666.37,210.19 L667.19,211.43 L668.02,212.66 L668.87,213.88 L669.73,215.09 L670.61,216.29 L671.50,217.49 L672.41,218.68 L673.33,219.85 L674.27,221.02 L675.23,222.18 L676.20,223.33 L677.19,224.47 L678.20,225.61 L679.23,226.73 L680.28,227.84 L681.35,228.94 L682.43,230.03 L683.54,231.11 L684.66,232.17 L685.80,233.23 L686.95,234.27 L688.12,235.30 L689.31,236.31 L690.51,237.31 L691.72,238.30 L692.95,239.27 L694.19,240.23 L695.45,241.17 L696.72,242.09 L698.00,242.99 L699.29,243.88 L700.60,244.75 L701.91,245.60 L703.24,246.44 L704.58,247.25 L705.92,248.04 L707.28,248.82 L708.64,249.57 L710.01,250.30 L711.39,251.01 L712.78,251.70 L714.17,252.37 L715.57,253.01 L716.98,253.63 L718.39,254.22 L719.80,254.79 L721.22,255.34 L722.65,255.86 L724.07,256.35 L725.51,256.82 L726.94,257.26 L728.37,257.67 L729.81,258.06 L731.25,258.42 L732.69,258.75 L734.13,259.04 L735.56,259.30 L736.98,259.51 L738.39,259.65 L739.78,259.74 L741.15,259.75 L742.49,259.68 L743.79,259.51 L745.07,259.25 L746.30,258.88 L747.49,258.39 L748.62,257.78 L749.71,257.04 L750.74,256.15 L751.70,255.12 L752.60,253.93 L753.43,252.57 L754.19,251.04 L754.86,249.33 L755.45,247.42" stroke="#444" stroke-width="0.85" fill="none" stroke-linecap="round" stroke-linejoin="round"/>
<path d="M639.62,83.26 L639.25,84.69 L638.89,86.14 L638.55,87.60 L638.23,89.08 L637.92,90.57 L637.63,92.06 L637.36,93.57 L637.12,95.09 L636.89,96.61 L636.68,98.14 L636.49,99.68 L636.33,101.22 L636.19,102.76 L636.07,104.31 L635.98,105.85 L635.92,107.40 L635.88,108.94 L635.87,110.49 L635.88,112.03 L635.93,113.56 L636.00,115.09 L636.10,116.62 L636.23,118.14 L636.40,119.64 L636.60,121.14 L636.83,122.63 L637.09,124.11 L637.38,125.58 L637.70,127.04 L638.05,128.49 L638.43,129.92 L638.84,131.35 L639.27,132.78 L639.73,134.19 L640.22,135.59 L640.73,136.98 L641.26,138.37 L641.82,139.75 L642.40,141.12 L643.00,142.48 L643.63,143.83 L644.27,145.18 L644.93,146.52 L645.61,147.85 L646.31,149.17 L647.03,150.49 L647.76,151.80 L648.50,153.10 L649.27,154.40 L650.04,155.69 L650.83,156.98 L651.63,158.26 L652.44,159.53 L653.26,160.80 L654.08,162.07 L654.91,163.34 L655.75,164.60 L656.59,165.86 L657.43,167.12 L658.27,168.39 L659.11,169.65 L659.95,170.91 L660.79,172.18 L661.62,173.44 L662.44,174.71 L663.26,175.99 L664.06,177.26 L664.86,178.55 L665.64,179.83 L666.42,181.13 L667.17,182.43 L667.92,183.74 L668.64,185.05 L669.35,186.38 L670.04,187.71 L670.72,189.05 L671.39,190.39 L672.05,191.74 L672.70,193.09 L673.35,194.44 L674.01,195.79 L674.66,197.14 L675.32,198.49 L675.98,199.83 L676.66,201.17 L677.35,202.51 L678.05,203.84 L678.77,205.16 L679.51,206.47 L680.27,207.77 L681.05,209.06 L681.86,210.34 L682.70,211.60 L683.55,212.86 L684.43,214.10 L685.34,215.32 L686.26,216.53 L687.21,217.73 L688.18,218.91 L689.17,220.07 L690.18,221.21 L691.22,222.34 L692.27,223.45 L693.35,224.53 L694.44,225.60 L695.56,226.65 L696.69,227.68 L697.85,228.68 L699.03,229.66 L700.22,230.62 L701.43,231.56 L702.66,232.47 L703.91,233.36 L705.18,234.22 L706.46,235.05 L707.77,235.86 L709.09,236.64 L710.42,237.39 L711.77,238.12 L713.14,238.81 L714.53,239.47 L715.93,240.11 L717.34,240.71 L718.77,241.28 L720.22,241.82 L721.68,242.32 L723.15,242.79 L724.64,243.23 L726.14,243.63 L727.65,243.99 L729.16,244.30 L730.67,244.56 L732.17,244.75 L733.65,244.89 L735.11,244.95 L736.55,244.93 L737.96,244.83 L739.33,244.63 L740.67,244.35 L741.95,243.96 L743.19,243.46 L744.36,242.85 L745.48,242.12 L746.52,241.27 L747.50,240.28 L748.39,239.16 L749.20,237.90 L749.92,236.48 L750.55,234.91" stroke="#444" stroke-width="0.85" fill="none" stroke-linecap="round" stroke-linejoin="round"/>
<path d="M664.74,91.95 L663.16,92.50 L661.68,93.13 L660.30,93.84 L659.02,94.62 L657.83,95.48 L656.74,96.39 L655.74,97.38 L654.82,98.42 L653.99,99.52 L653.25,100.68 L652.58,101.89 L651.99,103.14 L651.47,104.45 L651.03,105.79 L650.66,107.17 L650.35,108.59 L650.10,110.04 L649.92,111.52 L649.80,113.02 L649.73,114.55 L649.72,116.09 L649.76,117.66 L649.85,119.23 L649.98,120.82 L650.15,122.42 L650.37,124.01 L650.62,125.61 L650.91,127.21 L651.24,128.80 L651.59,130.38 L651.97,131.95 L652.37,133.50 L652.80,135.04 L653.25,136.56 L653.72,138.05 L654.21,139.53 L654.71,140.99 L655.24,142.43 L655.79,143.85 L656.35,145.26 L656.93,146.65 L657.53,148.02 L658.15,149.38 L658.79,150.73 L659.44,152.06 L660.11,153.38 L660.80,154.68 L661.50,155.98 L662.22,157.26 L662.96,158.53 L663.71,159.79 L664.47,161.04 L665.25,162.28 L666.05,163.52 L666.86,164.74 L667.68,165.96 L668.52,167.17 L669.37,168.38 L670.23,169.58 L671.11,170.77 L672.00,171.96 L672.90,173.15 L673.81,174.33 L674.73,175.52 L675.67,176.69 L676.62,177.87 L677.58,179.05 L678.54,180.23 L679.52,181.40 L680.51,182.58 L681.51,183.76 L682.52,184.94 L683.53,186.13 L684.56,187.31 L685.60,188.49 L686.64,189.66 L687.70,190.83 L688.76,192.00 L689.83,193.16 L690.92,194.31 L692.01,195.45 L693.12,196.59 L694.23,197.71 L695.35,198.82 L696.49,199.91 L697.63,200.99 L698.78,202.06 L699.94,203.10 L701.12,204.13 L702.30,205.14 L703.49,206.13 L704.69,207.10 L705.90,208.04 L707.13,208.96 L708.36,209.85 L709.60,210.72 L710.85,211.56 L712.12,212.37 L713.39,213.15 L714.67,213.90 L715.97,214.62 L717.27,215.30 L718.59,215.95 L719.91,216.57 L721.25,217.14 L722.59,217.67 L723.94,218.15 L725.30,218.57 L726.66,218.92 L728.03,219.19 L729.39,219.37 L730.76,219.47 L732.12,219.46 L733.48,219.34 L734.84,219.10 L736.19,218.73 L737.53,218.24 L738.87,217.59 L740.19,216.80 L741.50,215.85" stroke="#444" stroke-width="0.85" fill="none" stroke-linecap="round" stroke-linejoin="round"/>
<path d="M681.06,108.90 L679.15,109.20 L677.42,109.66 L675.86,110.27 L674.45,111.02 L673.19,111.90 L672.08,112.88 L671.11,113.96 L670.27,115.13 L669.55,116.37 L668.95,117.67 L668.47,119.01 L668.08,120.39 L667.79,121.79 L667.59,123.19 L667.48,124.59 L667.44,125.99 L667.49,127.39 L667.60,128.79 L667.79,130.18 L668.04,131.57 L668.35,132.96 L668.73,134.35 L669.16,135.73 L669.64,137.12 L670.17,138.51 L670.75,139.89 L671.37,141.28 L672.03,142.66 L672.72,144.05 L673.45,145.43 L674.20,146.82 L674.98,148.21 L675.78,149.60 L676.60,150.99 L677.43,152.38 L678.28,153.77 L679.13,155.17 L679.99,156.57 L680.84,157.97 L681.70,159.37 L682.55,160.77 L683.41,162.18 L684.26,163.58 L685.11,164.98 L685.97,166.37 L686.83,167.75 L687.70,169.12 L688.58,170.47 L689.46,171.81 L690.35,173.14 L691.26,174.44 L692.17,175.73 L693.10,176.99 L694.04,178.23 L695.00,179.44 L695.98,180.62 L696.97,181.77 L697.98,182.88 L699.02,183.96 L700.07,185.01 L701.15,186.01 L702.26,186.98 L703.38,187.90 L704.54,188.77 L705.73,189.60 L706.94,190.38 L708.19,191.11 L709.46,191.79 L710.78,192.41 L712.12,192.97 L713.49,193.46 L714.88,193.87 L716.27,194.17 L717.64,194.34 L719.00,194.38 L720.32,194.27 L721.59,193.97 L722.80,193.49 L723.93,192.79 L724.98,191.87 L725.93,190.70 L726.78,189.27 L727.49,187.55 L728.08,185.55" stroke="#444" stroke-width="0.85" fill="none" stroke-linecap="round" stroke-linejoin="round"/>
<path d="M630.38,103.59 L631.28,104.83 L632.17,106.07 L633.04,107.33 L633.89,108.59 L634.73,109.85 L635.55,111.13 L636.36,112.41 L637.16,113.69 L637.94,114.98 L638.71,116.28 L639.46,117.58 L640.20,118.89 L640.93,120.21 L641.64,121.53 L642.34,122.86 L643.03,124.19 L643.71,125.52 L644.38,126.86 L645.03,128.21 L645.67,129.56 L646.30,130.92 L646.92,132.28 L647.53,133.65 L648.13,135.02 L648.72,136.39 L649.30,137.77 L649.87,139.16 L650.42,140.54 L650.97,141.94 L651.51,143.33 L652.04,144.73 L652.56,146.14 L653.08,147.54 L653.58,148.95 L654.08,150.37 L654.57,151.79 L655.05,153.21 L655.52,154.63 L655.99,156.06 L656.45,157.49 L656.90,158.92 L657.35,160.36 L657.79,161.80 L658.22,163.24 L658.65,164.68 L659.07,166.13 L659.49,167.58 L659.90,169.03 L660.31,170.48 L660.71,171.93 L661.11,173.39 L661.50,174.85 L661.89,176.31 L662.27,177.77 L662.66,179.23 L663.03,180.70 L663.41,182.16 L663.78,183.63 L664.15,185.10 L664.52,186.57 L664.88,188.04 L665.25,189.51 L665.61,190.98 L665.97,192.45 L666.32,193.92 L666.68,195.40 L667.04,196.87 L667.39,198.34 L667.75,199.82 L668.10,201.29 L668.45,202.76 L668.80,204.24 L669.15,205.71 L669.50,207.19 L669.85,208.66 L670.20,210.14 L670.55,211.61 L670.89,213.09 L671.24,214.57 L671.59,216.04 L671.93,217.52 L672.28,218.99 L672.62,220.47 L672.96,221.95 L673.31,223.42 L673.65,224.90 L673.99,226.38 L674.33,227.85 L674.67,229.33 L675.01,230.81 L675.35,232.28 L675.70,233.76 L676.04,235.24 L676.38,236.71 L676.72,238.19 L677.05,239.66 L677.39,241.14 L677.73,242.61 L678.07,244.09 L678.41,245.57 L678.75,247.04 L679.09,248.52 L679.43,249.99 L679.77,251.46 L680.11,252.94 L680.45,254.41 L680.79,255.88 L681.13,257.36 L681.47,258.83 L681.81,260.30 L682.15,261.78 L682.49,263.25 L682.83,264.72 L683.18,266.19 L683.52,267.66 L683.86,269.13 L684.21,270.60 L684.55,272.07 L684.89,273.54 L685.24,275.00 L685.59,276.47 L685.93,277.94 L686.28,279.40 L686.63,280.87 L686.98,282.33 L687.32,283.80 L687.67,285.26 L688.03,286.73 L688.38,288.19 L688.73,289.65 L689.08,291.11 L689.44,292.57 L689.79,294.03 L690.15,295.49 L690.51,296.95 L690.86,298.41 L691.22,299.86 L691.58,301.32" stroke="#444" stroke-width="0.85" fill="none" stroke-linecap="round" stroke-linejoin="round"/>
<path d="M640.15,84.20 L641.17,85.33 L642.20,86.46 L643.21,87.59 L644.23,88.73 L645.24,89.88 L646.25,91.02 L647.25,92.18 L648.25,93.33 L649.24,94.49 L650.22,95.66 L651.21,96.83 L652.18,98.00 L653.15,99.18 L654.12,100.36 L655.08,101.55 L656.03,102.74 L656.97,103.94 L657.91,105.14 L658.85,106.34 L659.78,107.55 L660.69,108.77 L661.61,109.98 L662.51,111.21 L663.41,112.43 L664.30,113.67 L665.19,114.90 L666.06,116.14 L666.93,117.39 L667.79,118.64 L668.64,119.89 L669.48,121.15 L670.31,122.42 L671.14,123.69 L671.96,124.96 L672.76,126.24 L673.56,127.52 L674.35,128.81 L675.13,130.10 L675.90,131.40 L676.65,132.70 L677.40,134.01 L678.14,135.32 L678.87,136.63 L679.59,137.95 L680.29,139.28 L680.99,140.61 L681.67,141.95 L682.35,143.29 L683.01,144.63 L683.66,145.98 L684.30,147.34 L684.93,148.70 L685.54,150.06 L686.15,151.43 L686.74,152.80 L687.32,154.18 L687.88,155.57 L688.43,156.96 L688.97,158.35 L689.50,159.75 L690.01,161.16 L690.51,162.57 L691.00,163.98 L691.48,165.40 L691.94,166.83 L692.39,168.25 L692.83,169.69 L693.26,171.12 L693.67,172.56 L694.08,174.01 L694.48,175.46 L694.87,176.91 L695.25,178.37 L695.62,179.82 L695.98,181.29 L696.33,182.75 L696.67,184.22 L697.01,185.69 L697.34,187.17 L697.66,188.64 L697.98,190.12 L698.29,191.60 L698.60,193.09 L698.90,194.57 L699.19,196.06 L699.48,197.55 L699.76,199.04 L700.05,200.54 L700.32,202.03 L700.60,203.53 L700.87,205.02 L701.14,206.52 L701.40,208.02 L701.67,209.52 L701.93,211.02 L702.19,212.52 L702.46,214.02 L702.72,215.52 L702.98,217.02 L703.24,218.53 L703.50,220.03 L703.76,221.53 L704.03,223.03 L704.29,224.53 L704.56,226.03 L704.83,227.53 L705.10,229.02 L705.38,230.52 L705.66,232.01 L705.94,233.51 L706.22,235.00 L706.51,236.49 L706.80,237.98 L707.10,239.47 L707.40,240.96 L707.70,242.45 L708.00,243.94 L708.31,245.42 L708.62,246.91 L708.93,248.39 L709.24,249.87 L709.56,251.35 L709.88,252.84 L710.20,254.32 L710.53,255.79 L710.85,257.27 L711.18,258.75 L711.52,260.23 L711.85,261.70 L712.19,263.18 L712.52,264.65 L712.86,266.13 L713.21,267.60 L713.55,269.07 L713.90,270.55 L714.25,272.02 L714.60,273.49 L714.95,274.96 L715.30,276.43 L715.66,277.90 L716.02,279.37 L716.38,280.83 L716.74,282.30 L717.10,283.77 L717.46,285.24 L717.83,286.70 L718.19,288.17 L718.56,289.63 L718.93,291.10 L719.30,292.56 L719.67,294.03 L720.04,295.49 L720.41,296.96 L720.78,298.42 L721.16,299.89 L721.53,301.35" stroke="#444" stroke-width="0.85" fill="none" stroke-linecap="round" stroke-linejoin="round"/>
<path d="M638.49,81.27 L639.96,81.92 L641.41,82.59 L642.84,83.29 L644.26,83.99 L645.66,84.72 L647.04,85.47 L648.40,86.23 L649.74,87.01 L651.07,87.81 L652.38,88.63 L653.68,89.46 L654.95,90.31 L656.21,91.18 L657.45,92.06 L658.67,92.96 L659.88,93.88 L661.07,94.82 L662.24,95.77 L663.39,96.73 L664.52,97.71 L665.64,98.71 L666.74,99.72 L667.82,100.75 L668.89,101.80 L669.94,102.85 L670.97,103.93 L671.98,105.01 L672.97,106.12 L673.95,107.23 L674.91,108.36 L675.85,109.51 L676.78,110.66 L677.69,111.83 L678.59,113.02 L679.47,114.21 L680.33,115.42 L681.18,116.64 L682.02,117.87 L682.84,119.11 L683.64,120.36 L684.43,121.62 L685.21,122.89 L685.98,124.18 L686.73,125.47 L687.47,126.77 L688.20,128.08 L688.91,129.39 L689.62,130.72 L690.32,132.05 L691.01,133.39 L691.69,134.74 L692.36,136.09 L693.02,137.44 L693.68,138.81 L694.33,140.17 L694.97,141.54 L695.61,142.92 L696.24,144.30 L696.87,145.68 L697.50,147.07 L698.12,148.45 L698.73,149.84 L699.35,151.24 L699.96,152.63 L700.57,154.02 L701.17,155.42 L701.78,156.82 L702.38,158.22 L702.98,159.62 L703.57,161.02 L704.17,162.42 L704.76,163.82 L705.35,165.23 L705.94,166.63 L706.53,168.04 L707.11,169.45 L707.70,170.85 L708.28,172.26 L708.86,173.67 L709.44,175.08 L710.01,176.49 L710.59,177.90 L711.17,179.31 L711.74,180.72 L712.31,182.13 L712.88,183.54 L713.45,184.95 L714.02,186.36 L714.59,187.77 L715.16,189.18 L715.73,190.59 L716.29,192.00 L716.86,193.41 L717.43,194.82 L717.99,196.23 L718.55,197.64 L719.12,199.05 L719.68,200.46 L720.24,201.86 L720.79,203.27 L721.35,204.68 L721.91,206.09 L722.46,207.50 L723.01,208.91 L723.56,210.32 L724.11,211.73 L724.66,213.14 L725.20,214.55 L725.75,215.96 L726.29,217.37 L726.82,218.78 L727.36,220.19 L727.89,221.61 L728.42,223.02 L728.95,224.44 L729.48,225.85 L730.00,227.27 L730.52,228.68 L731.04,230.10 L731.56,231.52 L732.07,232.94 L732.58,234.36 L733.08,235.78 L733.58,237.20 L734.08,238.63 L734.58,240.05 L735.07,241.48 L735.56,242.90 L736.04,244.33 L736.52,245.76 L737.00,247.19 L737.48,248.62 L737.94,250.06 L738.41,251.49 L738.87,252.93 L739.33,254.37 L739.78,255.81 L740.23,257.25 L740.67,258.69 L741.11,260.14 L741.55,261.58 L741.98,263.03 L742.40,264.48 L742.83,265.93 L743.24,267.39 L743.65,268.84 L744.06,270.30 L744.46,271.76 L744.85,273.23 L745.24,274.69 L745.63,276.16 L746.01,277.63 L746.38,279.10 L746.75,280.57 L747.11,282.05 L747.47,283.52 L747.82,285.00 L748.17,286.49 L748.51,287.97 L748.84,289.46 L749.16,290.95 L749.49,292.45 L749.80,293.94 L750.11,295.44 L750.41,296.94 L750.70,298.45 L750.99,299.96 L751.27,301.47" stroke="#444" stroke-width="0.85" fill="none" stroke-linecap="round" stroke-linejoin="round"/>
<path d="M630.49,209.17 L630.94,210.64 L631.41,212.10 L631.90,213.56 L632.40,215.00 L632.92,216.44 L633.46,217.87 L634.02,219.29 L634.59,220.71 L635.17,222.11 L635.78,223.51 L636.39,224.90 L637.03,226.28 L637.68,227.65 L638.34,229.01 L639.02,230.37 L639.72,231.71 L640.43,233.05 L641.15,234.38 L641.89,235.70 L642.64,237.02 L643.41,238.32 L644.19,239.62 L644.98,240.91 L645.79,242.19 L646.61,243.46 L647.45,244.72 L648.30,245.97 L649.16,247.22 L650.03,248.46 L650.92,249.69 L651.82,250.91 L652.73,252.12 L653.65,253.32 L654.58,254.51 L655.53,255.70 L656.49,256.88 L657.45,258.04 L658.43,259.20 L659.42,260.35 L660.43,261.50 L661.44,262.63 L662.46,263.75 L663.49,264.87 L664.54,265.98 L665.59,267.08 L666.65,268.17 L667.73,269.25 L668.81,270.32 L669.90,271.38 L671.00,272.44 L672.11,273.48 L673.22,274.52 L674.35,275.55 L675.49,276.57 L676.63,277.58 L677.78,278.58 L678.94,279.57 L680.10,280.56 L681.28,281.53 L682.46,282.50 L683.65,283.45 L684.84,284.40 L686.05,285.34 L687.25,286.27 L688.47,287.19 L689.69,288.10 L690.92,289.01 L692.15,289.90 L693.39,290.79 L694.64,291.66 L695.89,292.53 L697.14,293.38 L698.41,294.23 L699.67,295.07 L700.94,295.90 L702.22,296.72 L703.50,297.54 L704.78,298.34 L706.07,299.13 L707.36,299.92 L708.66,300.69 L709.95,301.46" stroke="#444" stroke-width="0.85" fill="none" stroke-linecap="round" stroke-linejoin="round"/>
<text x="624.5" y="57.0" font-size="9" text-anchor="start" fill="#222" font-weight="bold" >Pv(при Δθ<tspan font-size="6" dy="1.5">ш</tspan><tspan dy="-1.5">=0°)</tspan></text>
<line x1="631.7" y1="60.2" x2="699.4" y2="60.2" stroke="#3a3a3a" stroke-width="0.7" />
<line x1="631.7" y1="60.2" x2="638.7" y2="77.0" stroke="#3a3a3a" stroke-width="0.7" />
<text x="687.0" y="84.0" font-size="9" text-anchor="start" fill="#222" font-weight="bold" >N(при Δθ<tspan font-size="6" dy="1.5">ш</tspan><tspan dy="-1.5">=0°)</tspan></text>
<line x1="694.1" y1="86.4" x2="754.0" y2="86.4" stroke="#3a3a3a" stroke-width="0.7" />
<line x1="754.0" y1="86.4" x2="746.0" y2="93.6" stroke="#3a3a3a" stroke-width="0.7" />
<text x="718.7" y="133.5" font-size="9" text-anchor="start" fill="#222" font-weight="bold" >η=0,83</text>
<line x1="707.3" y1="134.4" x2="746.0" y2="134.4" stroke="#3a3a3a" stroke-width="0.7" />
<line x1="707.3" y1="134.4" x2="701.8" y2="145.3" stroke="#3a3a3a" stroke-width="0.7" />
<circle cx="701.6" cy="146.6" r="1.1" fill="none" stroke="#3a3a3a" stroke-width="0.6"/>
<text x="746.0" y="150.5" font-size="9" text-anchor="start" fill="#222" font-weight="bold" >0,8</text>
<line x1="732.4" y1="151.5" x2="758.6" y2="151.5" stroke="#3a3a3a" stroke-width="0.7" />
<line x1="732.4" y1="151.5" x2="698.2" y2="179.7" stroke="#3a3a3a" stroke-width="0.7" />
<text x="742.6" y="165.0" font-size="9" text-anchor="start" fill="#222" font-weight="bold" >0,75</text>
<line x1="741.5" y1="166.2" x2="760.9" y2="166.2" stroke="#3a3a3a" stroke-width="0.7" />
<line x1="741.5" y1="166.2" x2="702.8" y2="200.2" stroke="#3a3a3a" stroke-width="0.7" />
<text x="610.0" y="196.5" font-size="8.6" text-anchor="start" fill="#222" font-weight="bold" >0,7</text>
<line x1="604.5" y1="198.3" x2="626.0" y2="198.3" stroke="#3a3a3a" stroke-width="0.7" />
<line x1="626.0" y1="198.3" x2="651.0" y2="170.0" stroke="#3a3a3a" stroke-width="0.7" />
<text x="609.0" y="250.5" font-size="8.6" text-anchor="start" fill="#222" font-weight="bold" >0,65</text>
<line x1="605.0" y1="252.3" x2="627.0" y2="252.3" stroke="#3a3a3a" stroke-width="0.7" />
<line x1="627.0" y1="252.3" x2="659.0" y2="193.0" stroke="#3a3a3a" stroke-width="0.7" />
<text x="612.5" y="264.5" font-size="8.6" text-anchor="start" fill="#222" font-weight="bold" >0,6</text>
<line x1="605.0" y1="266.0" x2="627.0" y2="266.0" stroke="#3a3a3a" stroke-width="0.7" />
<line x1="627.0" y1="266.0" x2="660.0" y2="227.0" stroke="#3a3a3a" stroke-width="0.7" />
<text x="612.5" y="291.5" font-size="8.6" text-anchor="start" fill="#222" font-weight="bold" >0,5</text>
<line x1="605.0" y1="293.3" x2="627.0" y2="293.3" stroke="#3a3a3a" stroke-width="0.7" />
<line x1="627.0" y1="293.3" x2="669.0" y2="268.0" stroke="#3a3a3a" stroke-width="0.7" />
<text x="583.2" y="360.8" font-size="15.2" text-anchor="start" fill="#ef8a55" font-weight="normal" >Аэродинамическая характеристика</text>
<text x="593.2" y="376.3" font-size="15.2" text-anchor="start" fill="#ef8a55" font-weight="normal" >дымососа ДН-12,5-1 при t=100°C</text>
<text x="560.2" y="390.5" font-size="13" text-anchor="start" fill="#1a1a1a" font-weight="normal" >Pv - полное давление, даПа;</text>
<text x="560.2" y="405.0" font-size="13" text-anchor="start" fill="#1a1a1a" font-weight="normal" >Q - производительность, тыс.м<tspan font-size="7" dy="-5">3</tspan><tspan dy="5">/час;</tspan></text>
<text x="560.2" y="419.5" font-size="13" text-anchor="start" fill="#1a1a1a" font-weight="normal" >Ny - установочная мощность:</text>
<text x="560.2" y="434.0" font-size="13" text-anchor="start" fill="#1a1a1a" font-weight="normal" >- при n=1000 об/мин - 30 кВт;</text>
<text x="560.2" y="448.5" font-size="13" text-anchor="start" fill="#1a1a1a" font-weight="normal" >- при n=1500 об/мин - 75 кВт;</text>
<text x="560.2" y="463.1" font-size="13" text-anchor="start" fill="#1a1a1a" font-weight="normal" >n - частота вращения рабочего колеса, об/мин;</text>
<text x="560.2" y="477.6" font-size="13" text-anchor="start" fill="#1a1a1a" font-weight="normal" >η - КПД;</text>
<text x="560.2" y="492.1" font-size="13" text-anchor="start" fill="#1a1a1a" font-weight="normal" >ΔΘ<tspan font-size="6" dy="2">ш</tspan><tspan dy="-2"> - угол установки поворотных лопаток</tspan></text>
<text x="560.2" y="506.6" font-size="13" text-anchor="start" fill="#1a1a1a" font-weight="normal" >направляющего аппарата.</text>
</svg></body></html>
